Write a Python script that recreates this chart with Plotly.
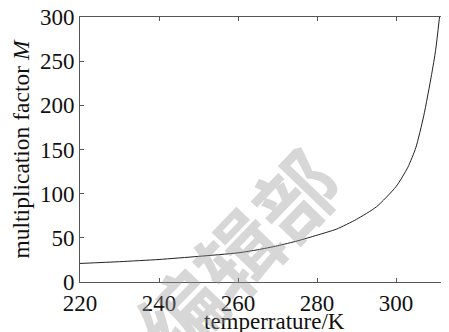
import plotly.graph_objects as go

temperature = [220, 230, 240, 250, 260, 265, 270, 275, 280, 285, 290, 295, 300, 303, 305, 307, 309, 310, 311]
factor_M = [21, 23, 25.5, 29, 33, 36.5, 41, 46.5, 53, 60, 71, 85, 108, 130, 152, 188, 235, 262, 300]
x_ticks = [220, 240, 260, 280, 300]
y_ticks = [0, 50, 100, 150, 200, 250, 300]

serif = "Liberation Serif"
# page has an 8px body margin; figure coordinates = page coordinates - 8
OFF = 8
FW, FH = 449 - OFF, 332 - OFF
L, T, W, H = 80 - OFF, 17 - OFF, 369, 265

fig = go.Figure()
fig.add_trace(go.Scatter(
    x=temperature, y=factor_M, mode="lines",
    line=dict(color="#222222", width=1, shape="spline", smoothing=0.6),
    showlegend=False,
))

fig.update_layout(
    width=FW, height=FH,
    margin=dict(l=L, r=FW - L - W, t=T, b=FH - T - H, autoexpand=False),
    paper_bgcolor="white", plot_bgcolor="white",
    font=dict(family=serif, color="#111111"),
    xaxis=dict(
        range=[220, 313.4], tickvals=x_ticks, ticktext=[str(v) for v in x_ticks],
        showgrid=False, zeroline=False, showline=True, linecolor="#555555", linewidth=1,
        mirror="ticks", ticks="inside", ticklen=4, tickcolor="#555555", automargin=False,
        ticklabeloverflow="allow",
        tickfont=dict(family=serif, size=23, color="#111111"),
    ),
    yaxis=dict(
        range=[0, 300], tickvals=y_ticks, ticktext=[str(v) for v in y_ticks],
        showgrid=False, zeroline=False, showline=True, linecolor="#555555", linewidth=1,
        ticks="inside", ticklen=4, tickcolor="#555555", automargin=False,
        ticklabeloverflow="allow",
        tickfont=dict(family=serif, size=23, color="#111111"),
        title=dict(text="multiplication factor <i>M</i>", font=dict(family=serif, size=23.5), standoff=3),
    ),
    annotations=[
        dict(text="temperrature/K", xref="paper", yref="paper", x=(274 - 80) / W, y=-(321 - 17 - H) / H,
             xanchor="center", yanchor="middle", showarrow=False,
             font=dict(family=serif, size=23, color="#111111")),
        dict(text="<b>编辑部</b>", xref="paper", yref="paper", x=(236 - 80) / W, y=(17 + H - 252) / H,
             xanchor="center", yanchor="middle", showarrow=False, textangle=-46,
             font=dict(family="Noto Sans CJK SC", size=82, color="rgba(150,150,150,0.38)")),
    ],
)

fig.write_html("out.html")
